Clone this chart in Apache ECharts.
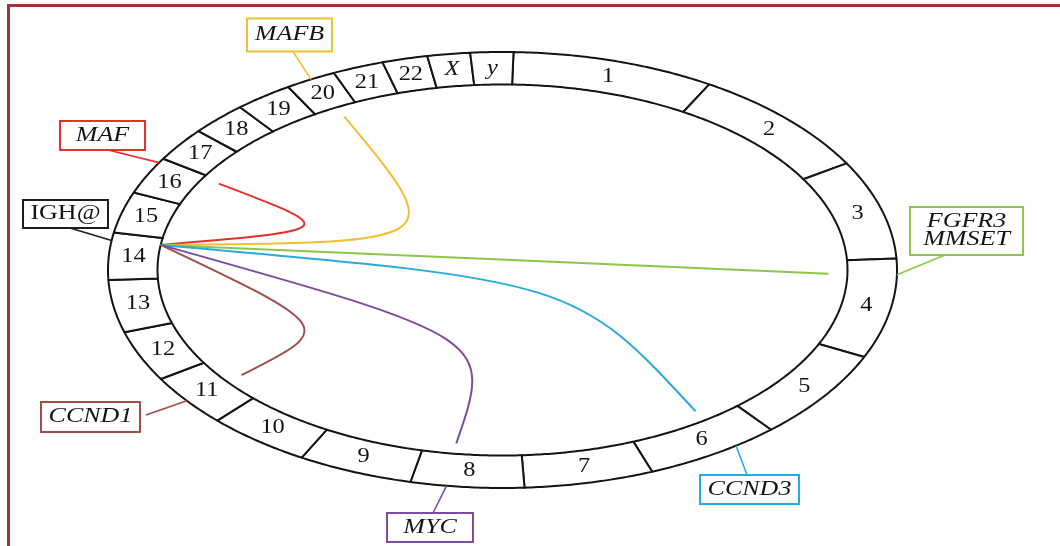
<!DOCTYPE html>
<html>
<head>
<meta charset="utf-8">
<script src="https://cdn.jsdelivr.net/npm/echarts@6/dist/echarts.min.js"></script>
<style>
  html, body { margin: 0; padding: 0; background: #ffffff; }
  #chart { width: 1060px; height: 546px; }
</style>
</head>
<body>
<div id="chart"></div>
<script>
// ---- Chromosome ring: block names and angular extent (degrees), clockwise from the top ----
const chromosomes = ['1','2','3','4','5','6','7','8','9','10','11','12','13','14','15','16','17','18','19','20','21','22','X','y'];
const chromSpans = [30.0, 29.1, 26.3, 26.5, 23.6, 20.6, 19.1, 16.7, 17.1, 15.7, 13.7, 13.4, 14.0, 12.5, 10.9, 9.9, 8.9, 8.7, 8.8, 7.6, 7.6, 6.7, 6.3, 6.3];
const ringStartAngle = 1.6;

// ---- IGH@ locus on chromosome 14 and its translocation partners ----
const sourceGene = 'IGH@';
const sourceChrom = '14';
const sourcePos = 0.83;                       // relative position inside the chromosome block
const partnerGenes = ['MAF', 'MAFB', 'FGFR3\nMMSET', 'CCND3', 'MYC', 'CCND1'];
const partnerChroms = ['16', '20', '4', '6', '8', '11'];
const partnerPos = [0.88, 0.51, 0.16, 0.32, 0.68, 0.50];
// bezier control of each link, polar inside the ring (angle in degrees, radius as share of inner ring); null = straight
const linkCtrlAngle = [294.8, 313.8, null, 105.8, 184.3, 237.1];
const linkCtrlRadius = [0.515, 0.211, null, 0.220, 0.368, 0.575];

// ---- styling ----
const geneColors = {
  'IGH@': '#1e1e1e', 'MAF': '#e3322b', 'MAFB': '#f2bf30', 'FGFR3\nMMSET': '#8cc64d',
  'CCND3': '#2aa9df', 'MYC': '#7d4c9f', 'CCND1': '#a34c48'
};
const INNER_X = 0.8745, INNER_Y = 0.851;     // inner edge of ring (outer edge = 1)
const LINK_END = 0.945;                        // links stop just short of the ring
const SERIF = '"Liberation Serif", "DejaVu Serif", serif';
const INK = '#141414';

// label boxes: centre and leader start in ring units, size in px
const calloutLayout = {
  'IGH@':        { box: [-1.1077, 0.2569],  w: 85,  h: 28, from: [-1.0963, 0.1927] },
  'MAF':         { box: [-1.0139, 0.6170],  w: 85,  h: 29, from: [-0.9999, 0.5505] },
  'MAFB':        { box: [-0.5399, 1.0780],  w: 85,  h: 33, from: [-0.5311, 1.0023] },
  'FGFR3\nMMSET':{ box: [1.1762, 0.1789],   w: 113, h: 48, from: [1.1217, 0.0688] },
  'CCND3':       { box: [0.6261, -1.0069],  w: 99,  h: 29, from: [0.6198, -0.9404] },
  'MYC':         { box: [-0.1838, -1.1812], w: 86,  h: 29, from: [-0.1762, -1.1147] },
  'CCND1':       { box: [-1.0444, -0.6743], w: 99,  h: 30, from: [-0.9037, -0.6651] }
};

// ---- geometry helpers ----
const chromStart = [], chromEnd = [];
(function () {
  let acc = ringStartAngle;
  chromSpans.forEach(function (s) { chromStart.push(acc); acc += s; chromEnd.push(acc); });
})();
function locusAngle(chrom, pos) {
  const i = chromosomes.indexOf(chrom);
  return chromStart[i] + pos * chromSpans[i];
}
function ringPoint(angleDeg, rx, ry) {
  const a = angleDeg * Math.PI / 180;
  return [rx * Math.sin(a), ry * Math.cos(a)];
}

const chart = echarts.init(document.getElementById('chart'), null, { renderer: 'canvas' });

const ringData = chromosomes.map(function (c, i) { return [chromStart[i], chromEnd[i]]; });
const linkData = partnerGenes.map(function (g, i) { return [i, i]; });
const calloutGenes = [sourceGene].concat(partnerGenes);
const calloutData = calloutGenes.map(function (g, i) { return [i, i]; });

const option = {
  animation: false,
  backgroundColor: '#ffffff',
  grid: { left: 108, top: 52, width: 789, height: 436, show: false },
  xAxis: { type: 'value', min: -1, max: 1, show: false },
  yAxis: { type: 'value', min: -1, max: 1, show: false },
  graphic: [{
    type: 'rect', silent: true, z: 100,
    shape: { x: 8.5, y: 5.5, width: 1200, height: 700 },
    style: { fill: null, stroke: '#9c3634', lineWidth: 3 }
  }],
  series: [
    {
      // chromosome blocks with their names
      type: 'custom', name: 'ring', clip: false, z: 2,
      data: ringData,
      renderItem: function (params, api) {
        const a0 = api.value(0), a1 = api.value(1);
        const n = Math.max(8, Math.ceil((a1 - a0) / 0.5));
        const pts = [];
        for (let k = 0; k <= n; k++) pts.push(api.coord(ringPoint(a0 + (a1 - a0) * k / n, 1, 1)));
        for (let k = n; k >= 0; k--) pts.push(api.coord(ringPoint(a0 + (a1 - a0) * k / n, INNER_X, INNER_Y)));
        const name = chromosomes[params.dataIndex];
        const lp = api.coord(ringPoint((a0 + a1) / 2, (1 + INNER_X) / 2, (1 + INNER_Y) / 2));
        const italic = (name === 'X' || name === 'y');
        return {
          type: 'group',
          children: [
            { type: 'polygon', shape: { points: pts },
              style: { fill: '#ffffff', stroke: INK, lineWidth: 2, lineJoin: 'round' } },
            { type: 'text', x: lp[0], y: lp[1], scaleX: 1.22,
              style: { text: name, font: (italic ? 'italic ' : '') + '20px ' + SERIF,
                       fill: INK, align: 'center', verticalAlign: 'middle' } }
          ]
        };
      }
    },
    {
      // IGH@ translocation links
      type: 'custom', name: 'links', clip: false, z: 3,
      data: linkData,
      renderItem: function (params, api) {
        const i = params.dataIndex;
        const s = ringPoint(locusAngle(sourceChrom, sourcePos), INNER_X, INNER_Y);
        const e = ringPoint(locusAngle(partnerChroms[i], partnerPos[i]), INNER_X * LINK_END, INNER_Y * LINK_END);
        const q = linkCtrlRadius[i] == null
          ? [(s[0] + e[0]) / 2, (s[1] + e[1]) / 2]
          : ringPoint(linkCtrlAngle[i], INNER_X * linkCtrlRadius[i], INNER_Y * linkCtrlRadius[i]);
        const p0 = api.coord(s), p1 = api.coord(e), c = api.coord(q);
        return {
          type: 'bezierCurve',
          shape: { x1: p0[0], y1: p0[1], x2: p1[0], y2: p1[1], cpx1: c[0], cpy1: c[1], cpx2: c[0], cpy2: c[1] },
          style: { fill: null, stroke: geneColors[partnerGenes[i]], lineWidth: 2 }
        };
      }
    },
    {
      // gene name boxes with leader lines to the ring
      type: 'custom', name: 'callouts', clip: false, z: 4,
      data: calloutData,
      renderItem: function (params, api) {
        const i = params.dataIndex;
        const gene = calloutGenes[i];
        const lay = calloutLayout[gene];
        const ang = i === 0 ? locusAngle(sourceChrom, sourcePos) : locusAngle(partnerChroms[i - 1], partnerPos[i - 1]);
        const ringPt = api.coord(ringPoint(ang, 1, 1));
        const fromPt = api.coord(lay.from);
        const ctr = api.coord(lay.box);
        const color = geneColors[gene];
        const italic = gene !== sourceGene;
        return {
          type: 'group',
          children: [
            { type: 'line', shape: { x1: fromPt[0], y1: fromPt[1], x2: ringPt[0], y2: ringPt[1] },
              style: { stroke: color, lineWidth: 1.6 } },
            { type: 'rect', shape: { x: ctr[0] - lay.w / 2, y: ctr[1] - lay.h / 2, width: lay.w, height: lay.h },
              style: { fill: '#ffffff', stroke: color, lineWidth: 2 } },
            { type: 'text', x: ctr[0], y: ctr[1], scaleX: 1.3,
              style: { text: gene, font: (italic ? 'italic ' : '') + '20px ' + SERIF, lineHeight: 18,
                       fill: INK, align: 'center', verticalAlign: 'middle' } }
          ]
        };
      }
    }
  ]
};

chart.setOption(option);
</script>
</body>
</html>
